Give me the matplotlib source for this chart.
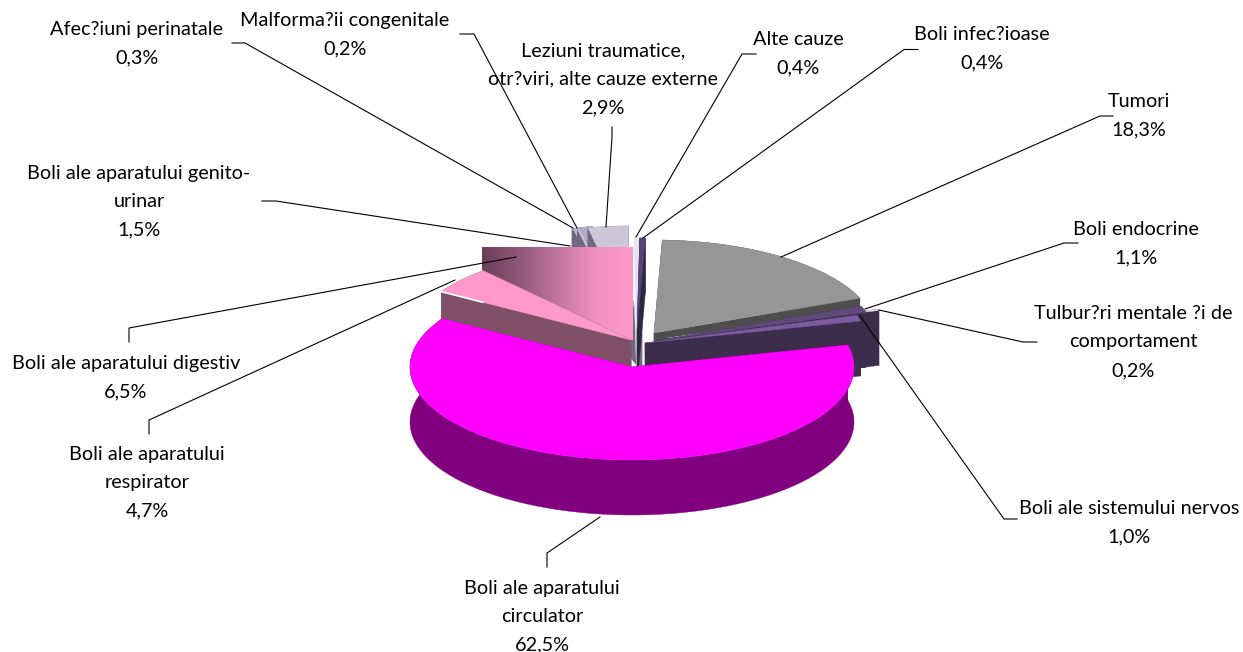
import numpy as np
import matplotlib
matplotlib.use("Agg")
import matplotlib.pyplot as plt
from matplotlib.patches import Polygon
from matplotlib.colors import LinearSegmentedColormap

# --- data ---
categories = ["Boli infec?ioase", "Tumori", "Boli endocrine",
              "Tulbur?ri mentale ?i de\ncomportament", "Boli ale sistemului nervos",
              "Boli ale aparatului\ncirculator", "Boli ale aparatului\nrespirator",
              "Boli ale aparatului digestiv", "Boli ale aparatului genito-\nurinar",
              "Afec?iuni perinatale", "Malforma?ii congenitale",
              "Leziuni traumatice,\notr?viri, alte cauze externe", "Alte cauze"]
values = [0.4, 18.3, 1.1, 0.2, 1.0, 62.5, 4.7, 6.5, 1.5, 0.3, 0.2, 2.9, 0.4]
value_labels = ["0,4%", "18,3%", "1,1%", "0,2%", "1,0%", "62,5%", "4,7%", "6,5%", "1,5%",
                "0,3%", "0,2%", "2,9%", "0,4%"]

# --- styles / layout (pixel space of the figure) ---
W, H = 1243, 652
RX, RY, DEPTH = 222, 93, 55
START = 0.7
centers = [(637, 331), (654, 333), (655, 341), (667, 338), (645, 343), (632, 367), (631, 340),
           (630, 340), (642, 317), (623, 320), (623, 320), (631, 319), (637, 331)]
top_colors = ["#57447C", "#969696", "#604A7B", "#E6E2EE", "#7A5C9E", "#FF00FF", "#FF99CC",
              "#FF99CC", "#B3ACC6", "#BDB6CE", "#C4BED4", "#CCC6D8", "#E6E2EE"]
face_colors = ["#2F2640", "#4D4D4D", "#3B2D4B", "#3B2D4B", "#3B2D4B", "#800080", "#805068",
               "#805068", "#6F6880", "#6F6880", "#6F6880", "#6F6880", "#F4F2F8"]
draw_order = [8, 9, 10, 11, 12, 0, 1, 3, 2, 4, 7, 6, 5]
DIGESTIVE = 7
RESPIRATORY = 6
DIGEST_TOP = 247
DIGEST_RIGHT_PAD = 3

label_pos = [(982, 49), (1139, 116), (1136, 244), (1133, 342), (1129, 523), (542, 616.5),
             (147, 482.5), (126, 378), (139, 201.5), (137, 44), (345, 35), (603, 79), (798, 54)]
leaders = [[(918, 49.5), (904, 49.5), (643, 238)],
           [(1113, 116), (1100, 116), (781, 257)],
           [(1078, 243), (1064, 243), (865, 309)],
           [(1037, 342), (1023, 342), (879, 310)],
           [(1017, 519), (1004, 519), (860, 316)],
           [(547, 567), (547, 553), (600, 517)],
           [(149, 434), (149, 420), (455, 280)],
           [(129, 342), (129, 328), (516, 257)],
           [(262, 201), (276, 201), (570, 246)],
           [(232, 43), (245, 43), (573, 228)],
           [(460, 34), (474, 34), (577, 228)],
           [(612, 127), (612, 137), (606, 227)],
           [(756, 54), (742, 54), (636, 237)]]

plt.rcParams["font.family"] = ["Lato", "DejaVu Sans"]
fig = plt.figure(figsize=(W / 100, H / 100), dpi=100, facecolor="white")
ax = fig.add_axes([0, 0, 1, 1])

fractions = np.array(values) / np.sum(values)
edges = START + 360 * np.concatenate([[0], np.cumsum(fractions)])


def point(c, deg):
    r = np.radians(deg)
    return c[0] + RX * np.sin(r), c[1] - RY * np.cos(r)


def add_poly(pts, color, z):
    ax.add_patch(Polygon(pts, closed=True, facecolor=color, edgecolor=color, lw=0.3, zorder=z))


z = 1
for i in draw_order:
    c = centers[i]
    a0, a1 = edges[i], edges[i + 1]
    arc = [point(c, d) for d in np.linspace(a0, a1, max(3, int((a1 - a0) * 2)))]
    shift = lambda pts: [(x, y + DEPTH) for x, y in pts]
    if i == DIGESTIVE:
        x0, _ = point(c, a0)
        x1 = c[0] + DIGEST_RIGHT_PAD
        rect = [(x0, DIGEST_TOP), (x1, DIGEST_TOP), (x1, c[1]), (x0, c[1])]
        cmap = LinearSegmentedColormap.from_list("dig", [(0, "#6C3E58"), (0.25, "#90597A"),
                                                         (0.75, "#F090C2"), (1, "#FF99CC")])
        im = ax.imshow(np.linspace(0, 1, 256)[None, :], cmap=cmap, aspect="auto",
                       extent=(x0, x1, c[1], DIGEST_TOP), zorder=z)
        clip = Polygon(rect, closed=True, transform=ax.transData)
        im.set_clip_path(clip)
        z += 1
        continue
    fc, tc = face_colors[i], top_colors[i]
    add_poly([c, arc[0]] + shift([arc[0], c]), fc, z); z += 1
    add_poly([c, arc[-1]] + shift([arc[-1], c]), fc, z); z += 1
    add_poly(arc + shift(arc)[::-1], fc, z); z += 1
    add_poly([c] + arc, tc, z); z += 1
    if i == RESPIRATORY:
        tip = np.array(arc[0])
        inner = tip + 0.22 * (np.array(c) - tip)
        ax.plot([tip[0], inner[0]], [tip[1], inner[1]], color="white", lw=1.2, zorder=z)
        z += 1

for pts in leaders:
    xs, ys = zip(*pts)
    ax.plot(xs, ys, color="black", lw=0.8, zorder=z + 1, solid_joinstyle="miter")

for name, val, (x, y) in zip(categories, value_labels, label_pos):
    ax.text(x, y, f"{name}\n{val}", ha="center", va="center", fontsize=14.3,
            linespacing=1.82, color="black", zorder=z + 2)

ax.set_xlim(0, W)
ax.set_ylim(H, 0)
ax.axis("off")
fig.savefig("out.png", dpi=100, facecolor="white")
